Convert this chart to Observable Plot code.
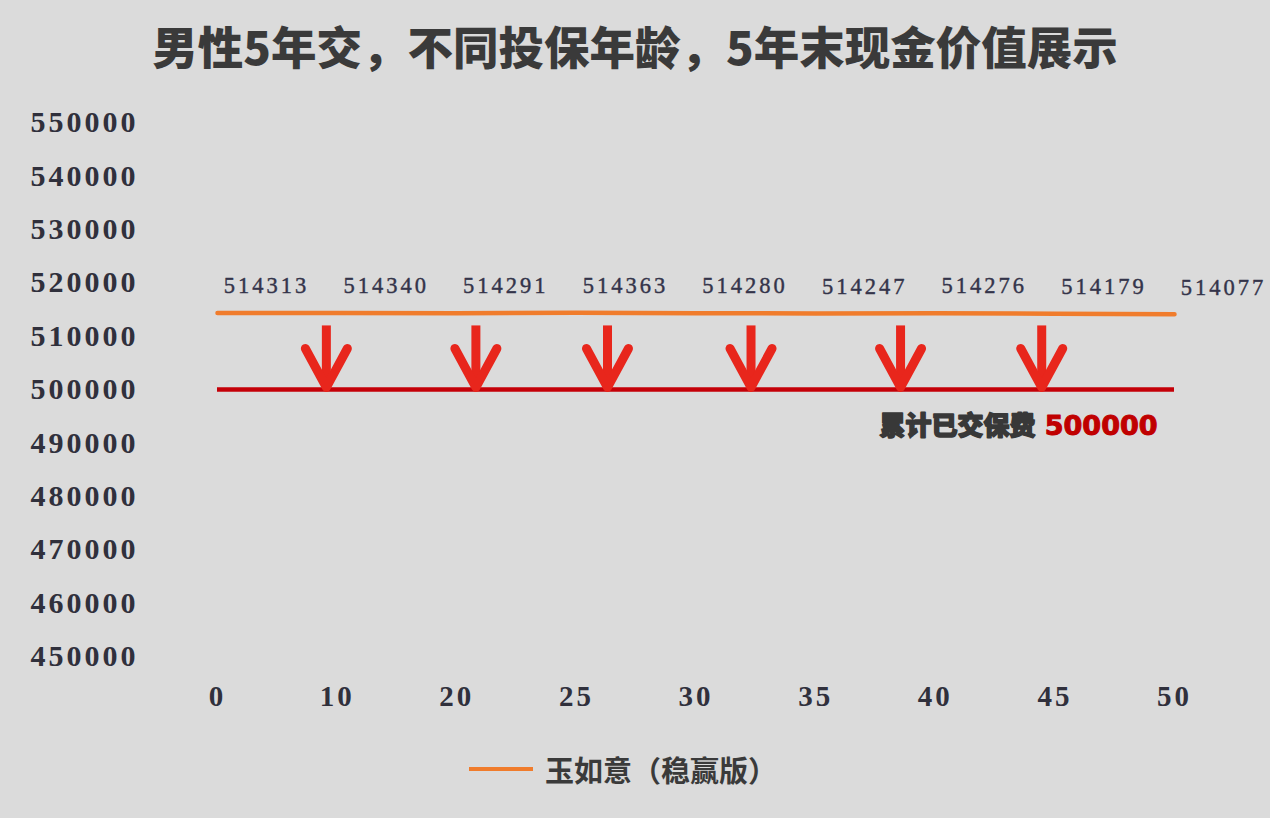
<!DOCTYPE html>
<html>
<head>
<meta charset="utf-8">
<script src="https://cdn.jsdelivr.net/npm/d3@7"></script>
<script src="https://cdn.jsdelivr.net/npm/@observablehq/plot@0.6"></script>
<style>
  html, body { margin: 0; padding: 0; background: #dbdbdb; }
  body { width: 1270px; height: 818px; overflow: hidden; font-family: "Noto Sans CJK SC", sans-serif; }
  #title { height: 95px; line-height: 90px; text-align: center; font-size: 45.5px; font-weight: 900; color: #3a3a3a; }
  #legend { height: 68px; display: flex; align-items: center; justify-content: center; padding-right: 24px; }
  #legend .swatch { width: 64px; height: 4px; background: #f07c2c; margin-right: 12px; }
  #legend .label { font-size: 29px; font-weight: 700; color: #3a3a3a; }
  svg g[aria-label="y-axis tick label"] text,
  svg g[aria-label="x-axis tick label"] text,
  svg g.vals text { letter-spacing: 3px; }
</style>
</head>
<body>
<div id="title"></div>
<div id="chart"></div>
<div id="legend"><div class="swatch"></div><div class="label"></div></div>
<script>
// ---- data ----
const titleText = "男性5年交，不同投保年龄，5年末现金价值展示";
const seriesName = "玉如意（稳赢版）";
const ages = ["0", "10", "20", "25", "30", "35", "40", "45", "50"];
const cashValues = [514313, 514340, 514291, 514363, 514280, 514247, 514276, 514179, 514077];
const yTicks = [450000, 460000, 470000, 480000, 490000, 500000, 510000, 520000, 530000, 540000, 550000];
const paidPremium = [500000];
const paidLabel = ["累计已交保费"];
// arrow positions along the age axis (in category units), their top and tip values
const arrowAt = [0.91, 2.16, 3.26, 4.46, 5.71, 6.89];
const arrowTop = [512000];
const arrowTip = [500400];

document.getElementById("title").textContent = titleText;
document.querySelector("#legend .label").textContent = seriesName;

const idx = ages.map((_, i) => i);
const series = idx.map(i => ({i, v: cashValues[i]}));
const arrows = arrowAt.map(x => ({x, top: arrowTop[0], tip: arrowTip[0]}));
const lastIdx = ages.length - 1;

const chevron = {
  draw(context, size) {
    const r = Math.sqrt(size / Math.PI);
    context.moveTo(-r, -1.85 * r);
    context.lineTo(0, 0);
    context.lineTo(r, -1.85 * r);
  }
};

const serif = "'Liberation Serif', 'DejaVu Serif', serif";
const arrowColor = "#e8261c";

const chart = Plot.plot({
  width: 1270,
  height: 640,
  marginTop: 27,
  marginBottom: 79,
  marginLeft: 217,
  marginRight: 96,
  style: {background: "transparent", overflow: "visible"},
  x: {type: "linear", domain: [0, lastIdx]},
  y: {domain: [450000, 550000]},
  marks: [
    Plot.axisY({ticks: yTicks, tickFormat: d => String(d), tickSize: 0, tickPadding: 79, label: null,
      fontFamily: serif, fontSize: 30, fontWeight: "bold", fill: "#30303c"}),
    Plot.axisX({ticks: idx, tickFormat: i => ages[i], tickSize: 0, tickPadding: 29, label: null,
      fontFamily: serif, fontSize: 29, fontWeight: "bold", fill: "#30303c"}),
    Plot.ruleY(paidPremium, {x1: () => 0, x2: () => lastIdx, stroke: "#c40008", strokeWidth: 4.5}),
    Plot.line(series, {x: "i", y: "v", stroke: "#f07c2c", strokeWidth: 4.5}),
    Plot.link(arrows, {x1: "x", x2: "x", y1: "top", y2: "tip", stroke: arrowColor, strokeWidth: 9, strokeLinecap: "butt"}),
    Plot.dot(arrows, {x: "x", y: "tip", symbol: chevron, r: 21, fill: "none", stroke: arrowColor, strokeWidth: 9,
      strokeLinecap: "round", strokeLinejoin: "round"}),
    Plot.text(series, {x: "i", y: "v", text: d => String(d.v), dx: 49, dy: -27, className: "vals",
      fontFamily: serif, fontSize: 22.5, fill: "#34344a", stroke: "#34344a", strokeWidth: 0.4}),
    Plot.text(paidPremium, {x: () => lastIdx, y: d => d, text: () => paidLabel[0], textAnchor: "end", dx: -139, dy: 37,
      fontFamily: "'Noto Sans CJK SC', sans-serif", fontSize: 26, fontWeight: 900, fill: "#383838",
      stroke: "#383838", strokeWidth: 1.5}),
    Plot.text(paidPremium, {x: () => lastIdx, y: d => d, text: d => String(d), textAnchor: "end", dx: -17, dy: 37,
      fontFamily: "'DejaVu Sans', sans-serif", fontSize: 27, fontWeight: "bold", fill: "#c00000",
      stroke: "#c00000", strokeWidth: 1})
  ]
});
document.getElementById("chart").appendChild(chart);
</script>
</body>
</html>
